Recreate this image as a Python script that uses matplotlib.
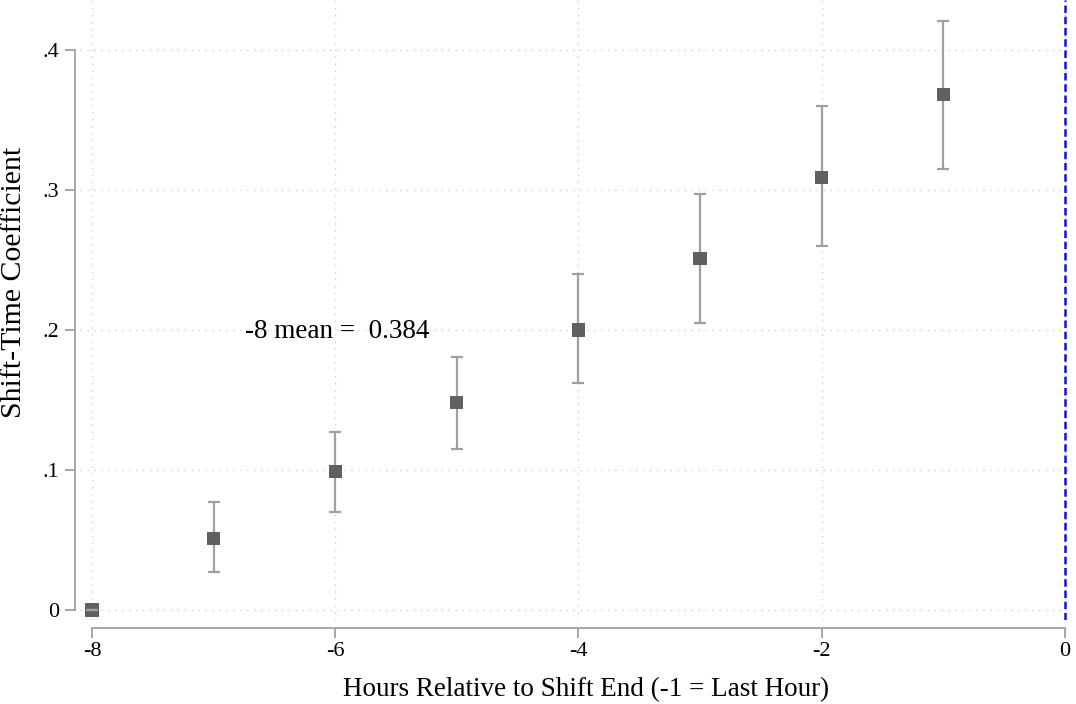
import numpy as np
import matplotlib
matplotlib.use('Agg')
import matplotlib.pyplot as plt

# hours relative to shift end, coefficient and 95% CI
hours = [-8, -7, -6, -5, -4, -3, -2, -1]
coef = [0.0, 0.051, 0.099, 0.148, 0.200, 0.251, 0.309, 0.368]
ci_lo = [0.0, 0.027, 0.070, 0.115, 0.162, 0.205, 0.260, 0.315]
ci_hi = [0.0, 0.077, 0.127, 0.181, 0.240, 0.297, 0.360, 0.421]

xticks = [-8, -6, -4, -2, 0]
xticklabels = ['-8', '-6', '-4', '-2', '0']
yticks = [0, 0.1, 0.2, 0.3, 0.4]
yticklabels = ['0', '.1', '.2', '.3', '.4']

plt.rcParams['font.family'] = ['Liberation Serif', 'DejaVu Serif']

W, H = 1076, 704
fig = plt.figure(figsize=(W / 100, H / 100), dpi=100)
# axes box in pixels
x0, x1 = 79.8, 1071.0
y0, y1 = 619.8, 0.0
ax = fig.add_axes([x0 / W, 1 - y0 / H, (x1 - x0) / W, (y0 - y1) / H])
ax.set_xlim(-8.1, 0.05)
ax.set_ylim(-0.007, 0.4357)

grey = '#a0a0a0'
for t in yticks:
    ax.axhline(t, color='#cfcfcf', lw=1, ls=(0, (1, 4)), zorder=0)
for t in xticks:
    ax.axvline(t, color='#cfcfcf', lw=1, ls=(0, (1, 4)), zorder=0)

ax.axvline(0, color='#1010e0', lw=1.8, ls=(0, (3, 1.5)), zorder=1)

c = np.array(coef)
yerr = [c - np.array(ci_lo), np.array(ci_hi) - c]
ax.errorbar(hours[1:], coef[1:], yerr=[yerr[0][1:], yerr[1][1:]], fmt='none',
            ecolor=grey, elinewidth=1.6, capsize=4.4, capthick=1.6, zorder=2)
ax.scatter(hours, coef, marker='s', s=90, color='#606060', edgecolors='none', zorder=3)
ax.errorbar(hours[:1], coef[:1], yerr=[[0], [0]], fmt='none', ecolor=grey,
            elinewidth=1.6, capsize=4.4, capthick=1.6, zorder=4)

ax.text(-6.74, 0.199, '-8 mean =  0.384', fontsize=19.5, va='center', ha='left', zorder=5)

for s in ['top', 'right']:
    ax.spines[s].set_visible(False)
ax.spines['left'].set_position(('outward', 3.6))
ax.spines['bottom'].set_position(('outward', 5.8))
ax.spines['left'].set_bounds(0, 0.4)
ax.spines['bottom'].set_bounds(-8, 0)
for s in ['left', 'bottom']:
    ax.spines[s].set_color(grey)
    ax.spines[s].set_linewidth(1.3)

ax.set_xticks(xticks)
ax.set_xticklabels(xticklabels)
ax.set_yticks(yticks)
ax.set_yticklabels(yticklabels)
ax.tick_params(axis='both', colors=grey, labelcolor='black', length=7, width=1.3,
               labelsize=16)
ax.tick_params(axis='y', pad=4)
ax.tick_params(axis='x', pad=3)

ax.set_xlabel('Hours Relative to Shift End (-1 = Last Hour)', fontsize=19.5, va='center')
ax.xaxis.set_label_coords(0.5107, -0.1133)
ax.set_ylabel('Shift-Time Coefficient', fontsize=21.5, va='center')
ax.yaxis.set_label_coords(-0.0665, 0.545)

fig.savefig('out.png', dpi=100)
